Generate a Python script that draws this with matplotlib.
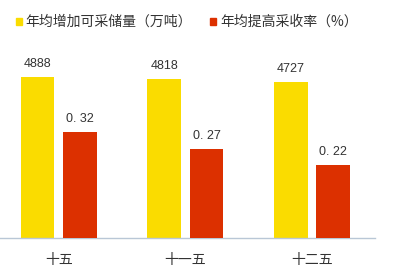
import matplotlib
matplotlib.use("Agg")
import matplotlib.pyplot as plt
from matplotlib.patches import Patch
import numpy as np

plt.rcParams['font.family'] = ['Noto Sans CJK SC', 'DejaVu Sans']

categories = ['十五', '十一五', '十二五']
reserves = [4888, 4818, 4727]          # 年均增加可采储量（万吨）
recovery = [0.32, 0.27, 0.22]          # 年均提高采收率（%）
reserve_labels = ['4888', '4818', '4727']
recovery_labels = ['0. 32', '0. 27', '0. 22']
legend_labels = ['年均增加可采储量（万吨）', '年均提高采收率（%）']

yellow = '#FADC00'
red = '#DC3000'
txt = '#333333'

fig = plt.figure(figsize=(4.0, 2.72), dpi=100)
ax = fig.add_axes([0.0, 34.3 / 272, 375 / 400, 197.7 / 272])
ax2 = ax.twinx()

x = np.arange(len(categories))
w = 0.265
off = 0.168
b1 = ax.bar(x - off, reserves, width=w, color=yellow, zorder=2)
b2 = ax2.bar(x + off, recovery, width=w, color=red, zorder=2)

ax.set_ylim(0, 6000)
ax2.set_ylim(0, 0.6)
ax.set_xlim(-0.466, 2.498)

for a in (ax, ax2):
    for s in a.spines.values():
        s.set_visible(False)
    a.set_yticks([])
    a.tick_params(axis='both', length=0)
ax.spines['bottom'].set_visible(True)
ax.spines['bottom'].set_color('#B9C7D6')
ax.spines['bottom'].set_linewidth(1.0)

ax.set_xticks(x)
ax.set_xticklabels(categories, fontsize=10, color=txt)
ax.tick_params(axis='x', pad=11)

for rect, lab in zip(b1, reserve_labels):
    ax.annotate(lab, (rect.get_x() + rect.get_width() / 2, rect.get_height()),
                xytext=(0, 5), textcoords='offset points', ha='center', va='bottom',
                fontsize=9, color=txt, family=['Liberation Sans', 'DejaVu Sans'])
for rect, lab in zip(b2, recovery_labels):
    ax2.annotate(lab, (rect.get_x() + rect.get_width() / 2, rect.get_height()),
                 xytext=(0, 5), textcoords='offset points', ha='center', va='bottom',
                 fontsize=9, color=txt, family=['Liberation Sans', 'DejaVu Sans'])

handles = [Patch(color=yellow), Patch(color=red)]
fig.legend(handles, legend_labels, loc='center left', bbox_to_anchor=(0.04, 1 - 22 / 272),
           ncol=2, frameon=False, fontsize=10, handlelength=0.4, handleheight=0.4,
           handletextpad=0.3, columnspacing=1.3, borderpad=0, borderaxespad=0,
           labelcolor=txt)

fig.savefig('out.png', dpi=100)
